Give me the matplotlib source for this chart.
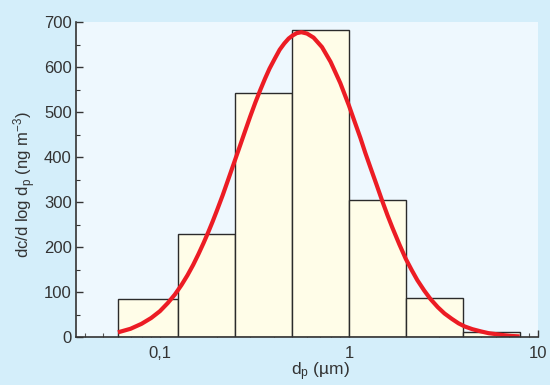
import numpy as np
import matplotlib
matplotlib.use("Agg")
import matplotlib.pyplot as plt
from matplotlib.ticker import MultipleLocator, NullFormatter, FixedLocator, FixedFormatter

# size bins (µm) and measured values
bin_edges = [0.06, 0.125, 0.25, 0.5, 1.0, 2.0, 4.0, 8.0]
bin_values = [85, 230, 542, 682, 305, 88, 12]

# fitted log-normal curve
fit_d = [0.06, 0.07, 0.08, 0.09, 0.10, 0.11, 0.12, 0.13, 0.14, 0.15, 0.16, 0.17, 0.18,
         0.19, 0.20, 0.215, 0.23, 0.245, 0.26, 0.28, 0.30, 0.32, 0.34, 0.36, 0.38,
         0.405, 0.43, 0.455, 0.48, 0.505, 0.53, 0.56, 0.60, 0.65, 0.72, 0.80, 0.90,
         1.0, 1.07, 1.15, 1.22, 1.3, 1.4, 1.5, 1.6, 1.7, 1.85, 2.0, 2.15, 2.3, 2.5,
         2.7, 2.95, 3.2, 3.5, 3.8, 4.1, 4.5, 5.0, 5.5, 6.0, 6.5, 7.2, 8.0]
fit_c = [11, 19, 30, 43, 58, 76, 95, 116, 138, 161, 185, 209, 233,
         257, 281, 316, 351, 384, 415, 454, 490, 522, 550, 575, 597,
         619, 639, 653, 664, 671, 676, 678, 675, 666, 645, 612, 565,
         515, 480, 443, 410, 377, 339, 303, 271, 243, 206, 174, 149, 127, 104,
         85, 67, 53, 41, 31, 24, 18, 13, 9, 7, 5, 3, 2]

xticks = [0.1, 1, 10]
xtick_labels = ["0,1", "1", "10"]

plt.rcParams['font.family'] = ['Liberation Sans', 'DejaVu Sans']
plt.rcParams['mathtext.default'] = 'regular'

W, H = 550, 385
fig = plt.figure(figsize=(W / 100, H / 100), dpi=100)
fig.patch.set_facecolor('#d4eefa')

ax = fig.add_axes([76 / W, 1 - 337.3 / H, 462 / W, 315 / H])
ax.set_facecolor('#eef8fe')

ax.set_xscale('log')
lefts = np.array(bin_edges[:-1])
widths = np.array(bin_edges[1:]) - lefts
ax.bar(lefts, bin_values, width=widths, align='edge', color='#fffde8',
       edgecolor='#2b2b2b', linewidth=1.0, zorder=2)
ax.plot(fit_d, fit_c, color='#ec1c24', linewidth=3.0, solid_capstyle='butt', zorder=3)

ax.set_xlim(0.036, 10)
ax.set_ylim(0, 700)

for s in ['top', 'right']:
    ax.spines[s].set_visible(False)
for s in ['left', 'bottom']:
    ax.spines[s].set_color('#333333')
    ax.spines[s].set_linewidth(1.2)
ax.spines['bottom'].set_zorder(4)

ax.xaxis.set_major_locator(FixedLocator(xticks))
ax.xaxis.set_major_formatter(FixedFormatter(xtick_labels))
ax.xaxis.set_minor_formatter(NullFormatter())
ax.yaxis.set_major_locator(MultipleLocator(100))
ax.yaxis.set_minor_locator(MultipleLocator(50))

ax.tick_params(axis='x', which='major', direction='in', length=5, width=1, color='#333333',
               labelsize=12, labelcolor='#333333', pad=6)
ax.tick_params(axis='x', which='minor', direction='in', length=3, width=0.8, color='#555555')
ax.tick_params(axis='y', which='major', direction='in', length=5, width=1, color='#333333',
               labelsize=12, labelcolor='#333333', pad=3)
ax.tick_params(axis='y', which='minor', direction='in', length=3, width=0.8, color='#333333')

fig.text(25 / W, 1 - 185 / H, r'dc/d log d$_p$ (ng m$^{-3}$)', rotation=90,
         ha='center', va='center', fontsize=12, color='#333333')
fig.text(320 / W, 2 / H, r'd$_p$ (µm)', ha='center', va='bottom',
         fontsize=12.5, color='#333333')

fig.savefig('out.png', dpi=100, facecolor=fig.get_facecolor())
